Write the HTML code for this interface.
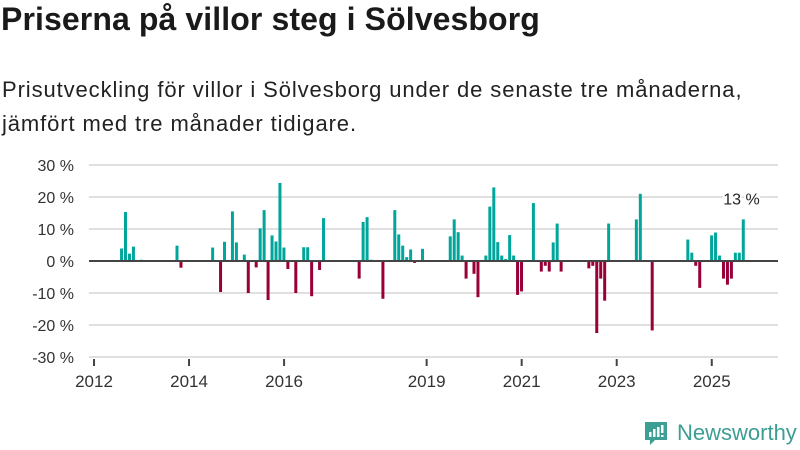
<!DOCTYPE html>
<html><head><meta charset="utf-8"><style>
body{margin:0;width:800px;height:450px;background:#fff;font-family:"Liberation Sans","DejaVu Sans",sans-serif;overflow:hidden;position:relative}
h1{position:absolute;left:1px;top:1px;margin:0;font-size:32px;font-weight:bold;color:#1a1a1a;letter-spacing:0.1px}
p{position:absolute;left:2px;top:73px;margin:0;font-size:22px;line-height:34px;color:#222;letter-spacing:0.9px}
svg{position:absolute;left:0;top:0}
</style></head><body>
<h1>Priserna på villor steg i Sölvesborg</h1>
<p>Prisutveckling för villor i Sölvesborg under de senaste tre månaderna,<br>jämfört med tre månader tidigare.</p>
<svg id="chart" width="800" height="450"></svg>
<svg width="800" height="450" style="pointer-events:none">
<g>
<path d="M645 422 h22 v18 h-12 l-5 5 v-5 h-5 z" fill="#3d9e94"/>
<rect x="649" y="432" width="2.5" height="5" fill="#fff"/><rect x="653" y="429" width="2.5" height="8" fill="#fff"/><rect x="657" y="427" width="2.5" height="10" fill="#fff"/><rect x="661" y="425" width="2.5" height="8" fill="#fff"/><rect x="661" y="435" width="2.5" height="2" fill="#fff"/>
<text x="677" y="440" font-size="22" fill="#3d9e94" font-family="Liberation Sans, sans-serif">Newsworthy</text>
</g></svg>
<script>
const monthIndex=[6,7,8,9,11,20,21,29,31,32,34,35,37,38,40,41,42,43,44,45,46,47,48,50,51,52,53,54,56,57,66,67,68,69,72,75,76,77,78,79,80,82,89,90,91,92,93,95,96,98,99,100,101,102,103,104,105,106,107,110,112,113,114,115,116,117,124,125,126,127,128,129,136,137,140,149,150,151,152,155,156,157,158,159,160,161,162,163];
const values=[3.9,15.3,2.3,4.5,0.4,4.8,-2.1,4.2,-9.7,6.0,15.5,5.8,2.0,-10,-2,10.2,15.9,-12.2,8.0,6.1,24.4,4.2,-2.5,-10,0.3,4.3,4.3,-11,-2.8,13.4,-5.5,12.2,13.7,0.4,-11.8,15.9,8.3,4.8,1.2,3.6,-0.6,3.8,7.7,13.0,9.0,1.7,-5.5,-4,-11.3,1.7,17,23,5.9,1.7,0.6,8.1,1.7,-10.6,-9.5,18.1,-3.3,-1.5,-3.3,5.8,11.7,-3.3,-2.3,-1.5,-22.5,-5.5,-12.4,11.7,13,21,-21.7,6.7,2.6,-1.5,-8.4,8.0,8.9,1.7,-5.5,-7.4,-5.5,2.6,2.6,13];
const yTicks=[30,20,10,0,-10,-20,-30];
const xYears=[2012,2014,2016,2019,2021,2023,2025];
const NS='http://www.w3.org/2000/svg';
const svg=document.getElementById('chart');
const y=v=>261-v*3.2;
const x=m=>94+m*3.96;
function add(tag,attrs,parent){const e=document.createElementNS(NS,tag);for(const k in attrs)e.setAttribute(k,attrs[k]);(parent||svg).appendChild(e);return e;}
yTicks.forEach(t=>{
  if(t!==0){const g=add('line',{x1:89,x2:778,y1:y(t),y2:y(t),stroke:'#e0e0e0','stroke-width':2});
  
  }
  const tx=add('text',{x:74,y:y(t)+6,'text-anchor':'end','font-size':16,fill:'#333'});
  tx.textContent=t+' %';
  
  
});
xYears.forEach(yr=>{
  const m=(yr-2012)*12;
  const tk=add('line',{x1:x(m),x2:x(m),y1:359,y2:366,stroke:'#444','stroke-width':2});
  
  
  const tx=add('text',{x:x(m),y:387,'text-anchor':'middle','font-size':17,fill:'#333'});
  tx.textContent=yr;
  
  
});
monthIndex.forEach((m,i)=>{
  const v=values[i];
  const r=add('rect',{x:x(m)+2.3,width:3,y:Math.min(y(v),y(0)),height:Math.abs(y(v)-y(0)),fill:v>=0?'#00a59b':'#990038'});
  
  
});
const zl=add('line',{x1:89,x2:778,y1:y(0),y2:y(0),stroke:'#444','stroke-width':2});


const li=monthIndex.length-1;
const lb=add('text',{x:x(monthIndex[li])+2,y:y(values[li])-15,'text-anchor':'middle','font-size':16,fill:'#222',stroke:'#fff','stroke-width':4,'paint-order':'stroke'});
lb.textContent=Math.round(values[li])+' %';


</script>
</body></html>
